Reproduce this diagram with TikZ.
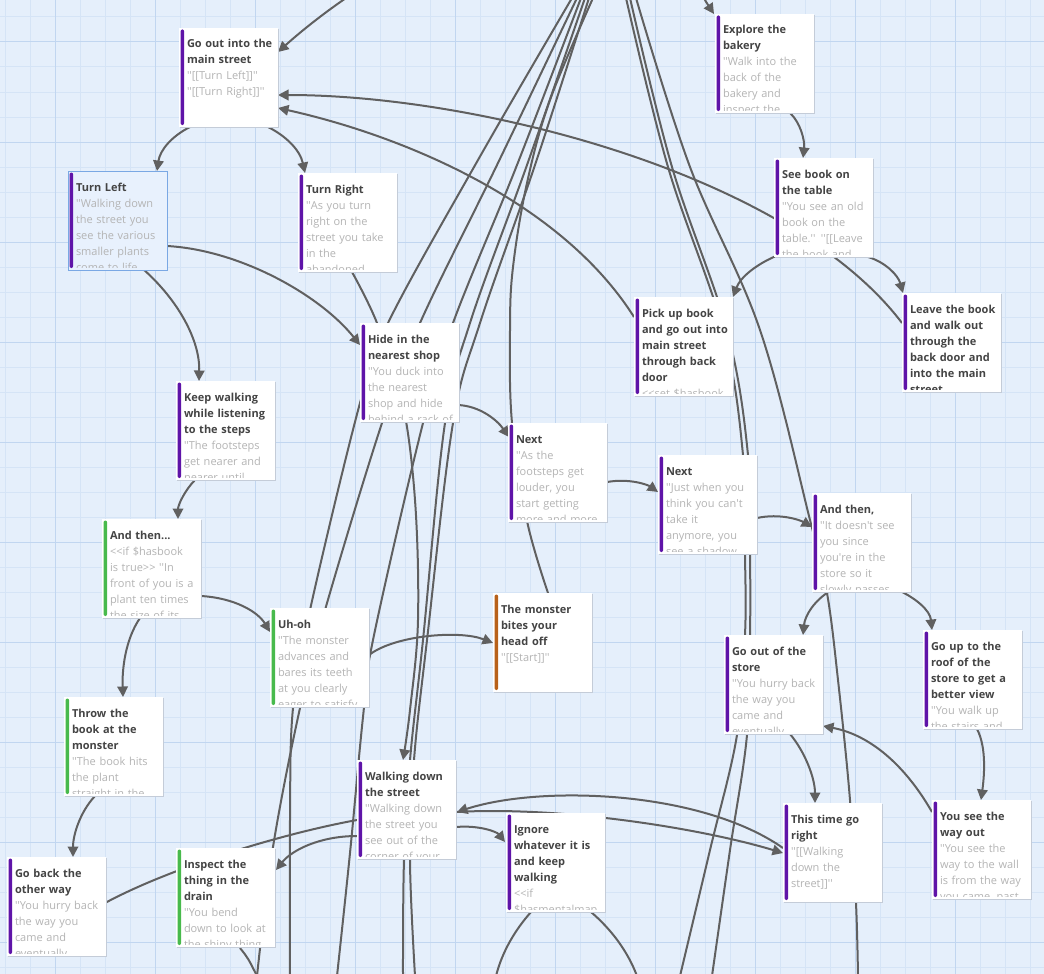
\documentclass[tikz,border=0pt]{standalone}
\usepackage{fontspec}
\newfontfamily\cardfont{Open Sans}
\usetikzlibrary{arrows.meta,calc}
\definecolor{bgc}{RGB}{229,239,251}
\definecolor{gridminor}{RGB}{213,228,246}
\definecolor{gridmajor}{RGB}{193,214,240}
\definecolor{linkc}{RGB}{96,96,96}
\definecolor{titlec}{RGB}{68,68,68}
\definecolor{bodyc}{RGB}{180,180,180}
\definecolor{purp}{RGB}{95,20,168}
\definecolor{grn}{RGB}{72,186,76}
\definecolor{orng}{RGB}{184,97,26}
\definecolor{shadowc}{RGB}{196,204,216}
\definecolor{selfill}{RGB}{232,241,253}
\definecolor{selborder}{RGB}{122,168,228}
\newcommand\qq{\textquotesingle\textquotesingle}
\newcommand\ap{\textquotesingle}
\pgfdeclarelayer{gridl}
\pgfdeclarelayer{linkl}
\pgfsetlayers{gridl,linkl,main}
\tikzset{
 card/.style={anchor=north west, minimum width=99pt, minimum height=99pt, inner sep=0pt, outer sep=0pt, fill=white},
 selcard/.style={fill=selfill, draw=selborder, line width=1pt},
 cardtext/.style={anchor=north west, inner sep=0pt, outer sep=0pt, text width=120pt, align=left, font=\cardfont\fontsize{11}{16}\selectfont},
 link/.style={draw=linkc, line width=2pt},
 arr/.style={-{Triangle[length=10.5pt,width=10.5pt]}},
}
\newcommand\card[7][]{%
 \fill[shadowc] ($(#3,#4)+(0.6,1.2)$) rectangle ++(99,99);
 \node[card,#1] (#2) at (#3,#4) {};
 \fill[#5, rounded corners=2pt] ($(#2.north west)+(1.5,1.5)$) rectangle ($(#2.south west)+(5.2,-2)$);
 \begin{scope}
 \clip ($(#2.north west)+(0,0)$) rectangle ($(#2.south east)+(0,-2.5)$);
 \node[cardtext] at ($(#2.north west)+(8,7)$) {\rule{0pt}{13pt}\bfseries\color{titlec}#6\\\mdseries\color{bodyc}#7};
 \end{scope}
}
\begin{document}
\begin{tikzpicture}[x=1pt,y=-1pt]
\useasboundingbox (0,0) rectangle (1044,974);
\clip (0,0) rectangle (1044,974);
\begin{pgfonlayer}{gridl}
\fill[bgc] (0,0) rectangle (1044,974);
\foreach \x in {5,30,...,1044} \draw[gridminor, line width=1pt] (\x,0) -- (\x,974);
\foreach \y in {17,42,...,974} \draw[gridminor, line width=1pt] (0,\y) -- (1044,\y);
\foreach \x in {55,155,...,1044} \draw[gridmajor, line width=1pt] (\x,0) -- (\x,974);
\foreach \y in {42,142,...,974} \draw[gridmajor, line width=1pt] (0,\y) -- (1044,\y);
\end{pgfonlayer}

% cards
\card{goout}{179}{28}{purp}{Go out into the\\main street}{\qq[[Turn Left]]\qq\\\qq[[Turn Right]]\qq}
\card[selcard]{turnleft}{68}{171}{purp}{Turn Left}{\qq Walking down\\the street you\\see the various\\smaller plants\\come to life}
\card{turnright}{298}{173}{purp}{Turn Right}{\qq As you turn\\right on the\\street you take\\in the\\abandoned}
\card{explore}{715}{14}{purp}{Explore the\\bakery}{\qq Walk into the\\back of the\\bakery and\\inspect the}
\card{seebook}{774}{158}{purp}{See book on\\the table}{\qq You see an old\\book on the\\table.\qq{} \qq[[Leave\\the book and}
\card{pickup}{634}{297}{purp}{Pick up book\\and go out into\\main street\\through back\\door}{\textless\textless set \$hasbook}
\card{leavebook}{902}{293}{purp}{Leave the book\\and walk out\\through the\\back door and\\into the main\\street}{}
\card{hide}{360}{323}{purp}{Hide in the\\nearest shop}{\qq You duck into\\the nearest\\shop and hide\\behind a rack of}
\card{keep}{176}{381}{purp}{Keep walking\\while listening\\to the steps}{\qq The footsteps\\get nearer and\\nearer until}
\card{next1}{508}{423}{purp}{Next}{\qq As the\\footsteps get\\louder, you\\start getting\\more and more}
\card{next2}{658}{455}{purp}{Next}{\qq Just when you\\think you can\ap t\\take it\\anymore, you\\see a shadow}
\card{andthenc}{812}{493}{purp}{And then,}{\qq It doesn\ap t see\\you since\\you\ap re in the\\store so it\\slowly passes}
\card{andthen}{102}{519}{grn}{And then...}{\textless\textless if \$hasbook\\is true\textgreater\textgreater{} \qq In\\front of you is a\\plant ten times\\the size of its}
\card{uhoh}{270}{608}{grn}{Uh-oh}{\qq The monster\\advances and\\bares its teeth\\at you clearly\\eager to satisfy}
\card{monster}{493}{593}{orng}{The monster\\bites your\\head off}{\qq[[Start]]\qq}
\card{throw}{64}{697}{grn}{Throw the\\book at the\\monster}{\qq The book hits\\the plant\\straight in the}
\card{gooutstore}{724}{635}{purp}{Go out of the\\store}{\qq You hurry back\\the way you\\came and\\eventually}
\card{roof}{923}{630}{purp}{Go up to the\\roof of the\\store to get a\\better view}{\qq You walk up\\the stairs and}
\card{walking}{357}{760}{purp}{Walking down\\the street}{\qq Walking down\\the street you\\see out of the\\corner of your}
\card{ignore}{506}{813}{purp}{Ignore\\whatever it is\\and keep\\walking}{\textless\textless if\\\$hasmentalmap}
\card{ttgr}{783}{803}{purp}{This time go\\right}{\qq[[Walking\\down the\\street]]\qq}
\card{yousee}{932}{800}{purp}{You see the\\way out}{\qq You see the\\way to the wall\\is from the way\\you came, past}
\card{goback}{7}{857}{purp}{Go back the\\other way}{\qq You hurry back\\the way you\\came and\\eventually}
\card{inspect}{176}{848}{grn}{Inspect the\\thing in the\\drain}{\qq You bend\\down to look at\\the shiny thing}

% free ends off the picture
\coordinate (tA) at (352,-6);
\coordinate (tB) at (700,-10);
\coordinate (s1) at (572,-2);
\coordinate (s2) at (577,-2);
\coordinate (s3) at (581,-2);
\coordinate (s4) at (585,-2);
\coordinate (s5) at (589,-2);
\coordinate (s6) at (593,-2);
\coordinate (r1) at (626,-2);
\coordinate (r2) at (630,-2);
\coordinate (r3) at (636,-2);
\coordinate (b1) at (290,976);
\coordinate (b2) at (257,976);
\coordinate (b3) at (337,976);
\coordinate (b4) at (403,976);
\coordinate (b5) at (415,976);
\coordinate (b6) at (496,976);
\coordinate (b7) at (637,976);
\coordinate (b8) at (680,976);
\coordinate (b9) at (712,976);
\coordinate (b10) at (858,976);
\coordinate (trA) at ($(turnright.north west)+(54,99)$);
\coordinate (wdTop) at ($(walking.north west)+(46,0)$);
\coordinate (mTop) at ($(monster.north west)+(55,0)$);

\begin{pgfonlayer}{linkl}
% long lines through the map
\draw[link] plot[smooth, tension=0.6] coordinates {(s1) (478,160) (388,323) (360,403) (310,610) (293,708) (290,820) (b1)};
\draw[link] plot[smooth, tension=0.6] coordinates {(s2) (497,165) (420,323) (382,423) (325,610) (300,708) (273,847) (b2)};
\draw[link] plot[smooth, tension=0.6] coordinates {(s3) (517,165) (453,323) (423,423) (373,640) (363,717) (350,853) (b3)};
\draw[link] plot[smooth, tension=0.6] coordinates {(s4) (527,165) (470,323) (445,423) (423,640) (410,760) (404,860) (b4)};
\draw[link] plot[smooth, tension=0.6] coordinates {(s5) (535,165) (480,323) (453,423) (427,640) (414,760) (410,860) (b5)};
\draw[link] plot[smooth, tension=0.6] coordinates {(s6) (550,100) (527,183) (513,267) (510,330) (512,423) (527,521) (mTop)};
\draw[link,arr] plot[smooth, tension=0.6] coordinates {(trA) (377,323) (402,400) (415,500) (418,620) (410,710) (wdTop)};
\draw[link] plot[smooth, tension=0.6] coordinates {(r1) (668,167) (723,330) (743,455) (745,554) (745,635) (737,735) (710,850) (b8)};
\draw[link] plot[smooth, tension=0.6] coordinates {(r2) (672,167) (727,330) (748,455) (750,554) (750,635) (747,735) (730,850) (b9)};
\draw[link] plot[smooth, tension=0.6] coordinates {(r3) (690,167) (760,330) (810,520) (827,593) (838,680) (850,800) (856,903) (b10)};

% passage links
\draw[link,arr] (tA) .. controls (322,14) and (298,34) .. ($(goout.north west)+(99,24)$);
\draw[link,arr] ($(goout.north west)+(11,99)$) .. controls (172,136) and (160,150) .. ($(turnleft.north west)+(89,0)$);
\draw[link,arr] ($(goout.north west)+(89,99)$) .. controls (286,136) and (300,150) .. ($(turnright.north west)+(7,0)$);
\draw[link,arr] ($(leavebook.north west)+(0,30)$) .. controls (790,175) and (480,95) .. ($(goout.north west)+(99,67)$);
\draw[link,arr] ($(pickup.north west)+(0,20)$) .. controls (560,200) and (400,135) .. ($(goout.north west)+(99,80)$);
\draw[link,arr] ($(explore.north west)+(75,99)$) .. controls (800,122) and (805,140) .. ($(seebook.north west)+(29,0)$);
\draw[link,arr] (tB) .. controls (706,2) .. ($(explore.north west)+(-1,0)$);
\draw[link,arr] ($(seebook.north west)+(2,98)$) .. controls (755,265) and (740,278) .. ($(pickup.north west)+(99,0)$);
\draw[link,arr] ($(seebook.north west)+(94,99)$) .. controls (885,262) and (898,275) .. ($(leavebook.north west)+(1,0)$);
\draw[link,arr] ($(turnleft.north west)+(99,75)$) .. controls (240,250) and (320,295) .. ($(hide.north west)+(0,22)$);
\draw[link,arr] ($(turnleft.north west)+(75,98)$) .. controls (178,300) and (200,340) .. ($(keep.north west)+(23,0)$);
\draw[link,arr] ($(keep.north west)+(19,99)$) .. controls (185,490) and (178,505) .. ($(andthen.north west)+(76,0)$);
\draw[link,arr] ($(andthen.north west)+(99,77)$) .. controls (235,598) and (258,612) .. ($(uhoh.north west)+(0,24)$);
\draw[link,arr] ($(andthen.north west)+(38,99)$) .. controls (125,640) and (122,670) .. ($(throw.north west)+(59,0)$);
\draw[link,arr] ($(throw.north west)+(31,99)$) .. controls (80,812) and (73,835) .. ($(goback.north west)+(66,0)$);
\draw[link,arr] ($(hide.north west)+(98,82)$) .. controls (480,406) and (497,420) .. ($(next1.north west)+(1,14)$);
\draw[link,arr] ($(next1.north west)+(99,59)$) .. controls (630,478) and (648,485) .. ($(next2.north west)+(0,37)$);
\draw[link,arr] ($(next2.north west)+(99,63)$) .. controls (780,513) and (800,520) .. ($(andthenc.north west)+(0,34)$);
\draw[link,arr] ($(uhoh.north west)+(99,47)$) .. controls (395,635) and (460,630) .. ($(monster.north west)+(0,50)$);
\draw[link,arr] ($(andthenc.north west)+(18,98)$) .. controls (815,600) and (805,615) .. ($(gooutstore.north west)+(79,0)$);
\draw[link,arr] ($(andthenc.north west)+(88,98)$) .. controls (915,598) and (930,610) .. ($(roof.north west)+(9,0)$);
\draw[link,arr] ($(gooutstore.north west)+(66,99)$) .. controls (805,752) and (815,778) .. ($(ttgr.north west)+(32,0)$);
\draw[link,arr] ($(yousee.north west)+(0,12)$) .. controls (905,765) and (870,735) .. ($(gooutstore.north west)+(99,91)$);
\draw[link,arr] ($(roof.north west)+(54,99)$) .. controls (987,748) and (984,778) .. ($(yousee.north west)+(49,0)$);
\draw[link,arr] ($(walking.north west)+(0,76)$) .. controls (320,836) and (292,850) .. ($(inspect.north west)+(100,22)$);
\draw[link,arr] ($(walking.north west)+(99,67)$) .. controls (480,825) and (497,832) .. ($(ignore.north west)+(-1,29)$);
\draw[link,arr] ($(ttgr.north west)+(0,45)$) .. controls (700,790) and (540,785) .. ($(walking.north west)+(100,52)$);
\draw[link,arr] ($(walking.north west)+(99,52)$) .. controls (560,806) and (700,828) .. ($(ttgr.north west)+(0,50)$);
\draw[link] ($(walking.north west)+(0,60)$) .. controls (280,834) and (170,868) .. ($(goback.north west)+(98,46)$);
\draw[link] ($(ignore.north west)+(25,99)$) .. controls (515,930) and (502,952) .. (b6);
\draw[link] ($(ignore.north west)+(85,99)$) .. controls (612,930) and (628,952) .. (b7);
\draw[link] ($(inspect.north west)+(64,100)$) .. controls (248,958) .. (b2);
\end{pgfonlayer}
\end{tikzpicture}
\end{document}
